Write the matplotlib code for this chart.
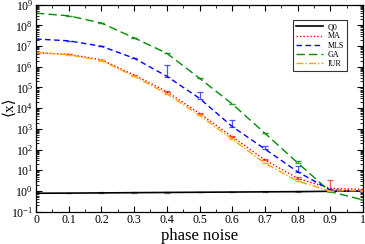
import matplotlib
matplotlib.use("Agg")
import matplotlib.pyplot as plt
from matplotlib.ticker import LogLocator, MultipleLocator, FixedLocator, NullFormatter
import numpy as np

plt.rcParams['font.family'] = ['Liberation Serif', 'DejaVu Serif']
plt.rcParams['mathtext.fontset'] = 'custom'
plt.rcParams['mathtext.rm'] = 'Liberation Serif'
plt.rcParams['mathtext.it'] = 'Liberation Serif:italic'

noise = [0.0, 0.1, 0.2, 0.3, 0.4, 0.5, 0.6, 0.7, 0.8, 0.9, 1.0]

q0 = [0.78, 0.79, 0.81, 0.83, 0.85, 0.87, 0.89, 0.91, 0.93, 0.97, 1.0]
q0_err = [0.04, 0.04, 0.04, 0.04, 0.04, 0.05, 0.05, 0.05, 0.05, 0.08, 0.05]

ma = [4.8e6, 4.0e6, 2.2e6, 4.0e5, 6.3e4, 5.6e3, 4.2e2, 32, 4.1, 1.35, 1.2]
ma_err = [1e5, 1e5, 5e4, 1e4, 2e3, 2e2, 20, 4, 0.5, 2.2, 0.1]

mls = [2.2e7, 1.8e7, 9.8e6, 2.6e6, 3.5e5, 3.0e4, 1.3e3, 107, 8.5, 1.12, 1.0]
mls_err = [5e5, 5e5, 2e5, 5e4, 9e5, 3e4, 1.3e3, 45, 8, 0.1, 0.05]

ga = [3.9e8, 2.9e8, 1.3e8, 2.5e7, 4.5e6, 2.8e5, 1.6e4, 6.2e2, 23, 0.93, 0.37]
ga_err = [5e6, 5e6, 3e6, 5e5, 1e5, 1e4, 8e2, 30, 5, 0.05, 0.02]

iur = [5.0e6, 3.8e6, 2.0e6, 3.5e5, 5.0e4, 4.5e3, 3.2e2, 22, 3.0, 1.0, 1.05]
iur_err = [1e5, 1e5, 4e4, 8e3, 1e3, 1e2, 10, 1, 0.2, 0.05, 0.05]

xticks = [0, 0.1, 0.2, 0.3, 0.4, 0.5, 0.6, 0.7, 0.8, 0.9, 1]
xticklabels = ["0", "0.1", "0.2", "0.3", "0.4", "0.5", "0.6", "0.7", "0.8", "0.9", "1"]
ydecades = list(range(-1, 10))

fig = plt.figure(figsize=(3.65, 2.44), dpi=100)
ax = fig.add_axes([36 / 365, 1 - 211.7 / 244, 327 / 365, 207 / 244])

series = [
    ("Q0", q0, q0_err, "black", "-", "gray", 1.2),
    ("MA", ma, ma_err, "#ff0000", (0, (1, 1.5)), "#ff5050", 1.0),
    ("MLS", mls, mls_err, "#0000ff", (0, (4, 2.5)), "#5050ff", 1.0),
    ("GA", ga, ga_err, "#008c00", (0, (6, 3)), "#30a030", 1.0),
    ("IUR", iur, iur_err, "#ffa500", (0, (5, 1.5, 1, 1.5)), "#ffb030", 1.0),
]

for name, vals, err, color, ls, ecol, lw in series:
    lower = np.minimum(np.array(err) * 0.3, np.array(vals) * 0.05)
    ax.errorbar(noise, vals, yerr=[lower, err], fmt="none", ecolor=ecol,
                elinewidth=0.9, capsize=2.5, capthick=0.9)
    ax.plot(noise, vals, color=color, linestyle=ls, lw=lw, label=name)

ax.set_yscale("log")
ax.set_xlim(0, 1)
ax.set_ylim(0.1, 1e9)

ax.xaxis.set_major_locator(FixedLocator(xticks))
ax.set_xticklabels(xticklabels)
ax.xaxis.set_minor_locator(MultipleLocator(0.05))
ax.yaxis.set_major_locator(FixedLocator([10.0 ** d for d in ydecades]))
ax.set_yticklabels([r"$10^{%d}$" % d for d in ydecades])
ax.yaxis.set_minor_locator(LogLocator(base=10, subs=np.arange(2, 10), numticks=20))
ax.yaxis.set_minor_formatter(NullFormatter())

ax.tick_params(which="both", direction="in", top=True, right=True, labelsize=8.5, pad=2)
ax.tick_params(which="major", length=4, width=0.8)
ax.tick_params(which="minor", length=2, width=0.6)
for sp in ax.spines.values():
    sp.set_linewidth(0.9)

ax.set_xlabel("phase noise", fontsize=12, labelpad=1)
ax.set_ylabel("\u27e8x\u27e9", fontsize=11)
ax.yaxis.set_label_coords(-0.062, 0.51)

leg = ax.legend(loc="upper right", bbox_to_anchor=(0.952, 0.926), borderaxespad=0,
                fontsize=5.8, frameon=True, fancybox=False, handlelength=3.3,
                handletextpad=0.6, labelspacing=0.15, borderpad=0.4)
leg.get_frame().set_edgecolor("black")
leg.get_frame().set_linewidth(0.8)

fig.savefig("out.png", dpi=100)
